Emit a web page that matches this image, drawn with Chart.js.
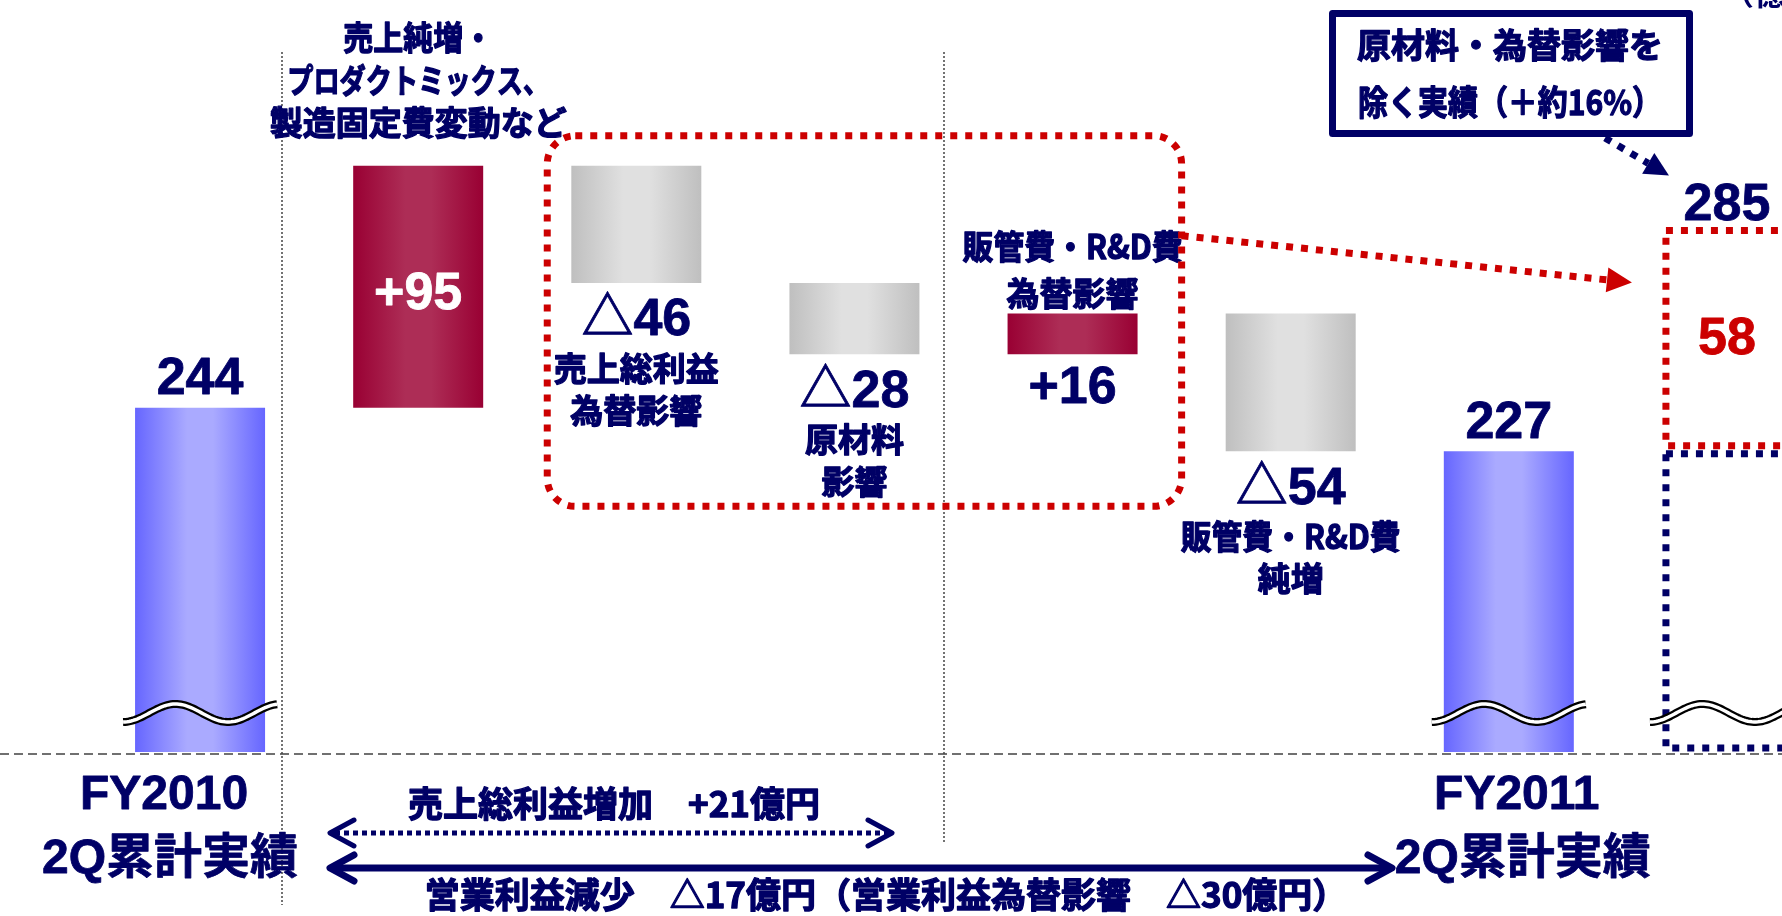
<!DOCTYPE html>
<html lang="ja">
<head>
<meta charset="utf-8">
<script src="https://cdn.jsdelivr.net/npm/chart.js@4.4.1/dist/chart.umd.min.js"></script>
<style>
html, body { margin: 0; padding: 0; background: #fff; overflow: hidden; }
#wrap { width: 1840px; height: 916px; }
</style>
</head>
<body>
<div id="wrap"><canvas id="BridgeChart"></canvas></div>
<script>
// 営業利益増減 (億円) FY2010 2Q -> FY2011 2Q
const categories = ['FY2010 2Q累計実績', '売上純増など', '売上総利益為替影響', '原材料影響',
    '販管費・R&D費為替影響', '販管費・R&D費純増', 'FY2011 2Q累計実績', '原材料・為替影響を除く実績'];
const totals = [244, 227];              // FY2010, FY2011
const deltas = [95, -46, -28, 16, -54]; // 増減要因
const exclImpact = 58;                  // 原材料・為替影響分 (285 = 227 + 58)

const axisLabels = [['FY2010', '2Q累計実績'], null, null, null, null, null, ['FY2011', '2Q累計実績'], null];
const subLabels = [
    null,
    ['売上純増・', 'プロダクトミックス、', '製造固定費変動など'],
    ['売上総利益', '為替影響'],
    ['原材料', '影響'],
    ['販管費・R&D費', '為替影響'],
    ['販管費・R&D費', '純増'],
    null,
    null
];
const noteLines = ['原材料・為替影響を', '除く実績（＋約16%）'];
const unitText = '（億円）';

const NAVY = '#000066';
const RED = '#cc0000';
const JP = '"Noto Sans CJK JP", sans-serif';
const NUM = '"Liberation Sans", "Noto Sans CJK JP", sans-serif';
const BAR_PCT = 0.596;

// floating bars for the waterfall
const n = categories.length;
const totalData = Array(n).fill(null);
const upData = Array(n).fill(null);
const downData = Array(n).fill(null);
totalData[0] = totals[0];
totalData[6] = totals[1];
let level = totals[0];
deltas.forEach(function (d, i) {
    let next = level + d;
    let pair = [Math.min(level, next), Math.max(level, next)];
    if (d > 0) upData[i + 1] = pair; else downData[i + 1] = pair;
    level = next;
});
const exBaseData = Array(n).fill(null);
const exTopData = Array(n).fill(null);
exBaseData[7] = totals[1];
exTopData[7] = [totals[1], totals[1] + exclImpact];

const grossChange = deltas[0] + deltas[1] + deltas[2];   // 売上総利益増加
const fxChange = deltas[1] + deltas[3];                  // 営業利益為替影響
const opChange = totals[1] - totals[0];                  // 営業利益減少

function fmt(v) { return v > 0 ? '+' + v : '△' + (-v); }

function barGradient(stops) {
    return function (c) {
        const chart = c.chart;
        if (!chart.chartArea) return stops[0];
        const xs = chart.scales.x;
        const cx = xs.getPixelForValue(c.dataIndex);
        const half = xs.width / n * BAR_PCT / 2;
        const g = chart.ctx.createLinearGradient(cx - half, 0, cx + half, 0);
        g.addColorStop(0, stops[0]);
        g.addColorStop(0.4, stops[1]);
        g.addColorStop(0.6, stops[1]);
        g.addColorStop(1, stops[0]);
        return g;
    };
}

function txt(ctx, s, x, y, size, color, fam, maxW) {
    ctx.font = 'bold ' + size + 'px ' + fam;
    ctx.fillStyle = color;
    ctx.strokeStyle = color;
    ctx.lineWidth = fam === JP ? 1.3 : 0.8;
    ctx.lineJoin = 'round';
    ctx.textAlign = 'center';
    ctx.textBaseline = 'middle';
    if (maxW) {
        ctx.fillText(s, x, y, maxW);
        ctx.strokeText(s, x, y, maxW);
    } else {
        ctx.fillText(s, x, y);
        ctx.strokeText(s, x, y);
    }
}

function dashRect(ctx, x, y, w, h, color) {
    ctx.save();
    ctx.strokeStyle = color;
    ctx.lineWidth = 7;
    ctx.setLineDash([7, 8]);
    ctx.strokeRect(x, y, w, h);
    ctx.restore();
}

function dashArrow(ctx, x1, y1, x2, y2, color, head) {
    const a = Math.atan2(y2 - y1, x2 - x1);
    const bx = x2 - head * Math.cos(a), by = y2 - head * Math.sin(a);
    const hw = head * 0.5;
    ctx.save();
    ctx.strokeStyle = color;
    ctx.lineWidth = 7;
    ctx.setLineDash([7, 8]);
    ctx.beginPath(); ctx.moveTo(x1, y1); ctx.lineTo(bx, by); ctx.stroke();
    ctx.setLineDash([]);
    ctx.fillStyle = color;
    ctx.beginPath();
    ctx.moveTo(x2, y2);
    ctx.lineTo(bx + hw * Math.sin(a), by - hw * Math.cos(a));
    ctx.lineTo(bx - hw * Math.sin(a), by + hw * Math.cos(a));
    ctx.closePath(); ctx.fill();
    ctx.restore();
}

function dblArrow(ctx, x1, x2, y, lw, dash) {
    ctx.save();
    ctx.strokeStyle = NAVY;
    ctx.lineWidth = lw;
    ctx.setLineDash(dash);
    ctx.beginPath(); ctx.moveTo(x1 + 5, y); ctx.lineTo(x2 - 5, y); ctx.stroke();
    ctx.setLineDash([]);
    ctx.lineCap = 'round';
    ctx.lineJoin = 'round';
    ctx.beginPath();
    ctx.moveTo(x1 + 24, y - 13); ctx.lineTo(x1, y); ctx.lineTo(x1 + 24, y + 13);
    ctx.moveTo(x2 - 24, y - 13); ctx.lineTo(x2, y); ctx.lineTo(x2 - 24, y + 13);
    ctx.stroke();
    ctx.restore();
}

function breakMark(ctx, x0, x1, yc) {
    ctx.save();
    ctx.beginPath();
    for (let x = x0; x <= x1; x += 2) {
        let y = yc + 9 * Math.cos(2 * Math.PI * (x - x0) / 105);
        if (x === x0) ctx.moveTo(x, y); else ctx.lineTo(x, y);
    }
    ctx.lineWidth = 8; ctx.strokeStyle = '#000'; ctx.stroke();
    ctx.lineWidth = 3.5; ctx.strokeStyle = '#fff'; ctx.stroke();
    ctx.restore();
}

const backPlugin = {
    id: 'back',
    beforeDatasetsDraw(chart) {
        const ctx = chart.ctx;
        const ca = chart.chartArea;
        ctx.save();
        // broken baseline
        ctx.strokeStyle = '#707070';
        ctx.lineWidth = 2;
        ctx.setLineDash([9, 5]);
        ctx.beginPath(); ctx.moveTo(0, ca.bottom + 2); ctx.lineTo(chart.width, ca.bottom + 2); ctx.stroke();
        // separators
        ctx.strokeStyle = '#444';
        ctx.lineWidth = 1.5;
        ctx.setLineDash([2, 2]);
        ctx.beginPath();
        ctx.moveTo(282, 52); ctx.lineTo(282, 905);
        ctx.moveTo(944, 52); ctx.lineTo(944, 843);
        ctx.stroke();
        ctx.restore();
    }
};

const notePlugin = {
    id: 'notes',
    afterDatasetsDraw(chart) {
        const ctx = chart.ctx;
        const ca = chart.chartArea;
        const xs = chart.scales.x;
        const ys = chart.scales.y;
        const catW = xs.width / n;

        function elOf(i) {
            for (let d = 0; d < 3; d++) {
                if (chart.data.datasets[d].data[i] != null) return chart.getDatasetMeta(d).data[i];
            }
            return null;
        }

        ctx.save();
        // wavy break marks on the full-height bars
        [0, 6].forEach(function (i) {
            const el = elOf(i);
            breakMark(ctx, el.x - el.width / 2 - 12, el.x + el.width / 2 + 12, ca.bottom - 39);
        });

        // 原材料・為替影響を除く column (dashed outlines)
        const eb = chart.getDatasetMeta(3).data[7];
        const et = chart.getDatasetMeta(4).data[7];
        const ebBase = Math.min(eb.base, ca.bottom);
        dashRect(ctx, eb.x - eb.width / 2 + 4, eb.y + 4, eb.width - 8, ebBase - eb.y - 8, NAVY);
        dashRect(ctx, et.x - et.width / 2 + 4, et.y, et.width - 8, et.base - et.y - 4, RED);
        breakMark(ctx, eb.x - eb.width / 2 - 12, eb.x + eb.width / 2 + 12, ca.bottom - 39);

        for (let i = 0; i < n; i++) {
            const el = elOf(i);
            if (!el) continue;
            const top = Math.min(el.y, el.base), bottom = Math.max(el.y, el.base);
            const lines = subLabels[i];
            if (i === 0 || i === 6) {
                const v = totalData[i];
                const lx = el.x + (i === 0 ? -30 : 14);
                txt(ctx, String(v), el.x, top - 28, 52, NAVY, NUM);
                txt(ctx, axisLabels[i][0], lx - 6, ca.bottom + 44, 48, NAVY, NUM);
                txt(ctx, axisLabels[i][1], lx, ca.bottom + 108, 48, NAVY, NUM);
            } else if (i === 1) {
                txt(ctx, fmt(deltas[0]), el.x, (top + bottom) / 2 + 8, 52, '#fff', NUM);
                txt(ctx, lines[0], el.x, top - 128, 33, NAVY, JP, 150);
                txt(ctx, lines[1], el.x, top - 85, 33, NAVY, JP, 262);
                txt(ctx, lines[2], el.x, top - 43, 33, NAVY, JP, 300);
            } else if (i === 4) {
                txt(ctx, lines[0], el.x, top - 67, 33, NAVY, JP, 220);
                txt(ctx, lines[1], el.x, top - 20, 33, NAVY, JP);
                txt(ctx, fmt(deltas[3]), el.x, bottom + 34, 52, NAVY, NUM);
            } else {
                txt(ctx, fmt(deltas[i - 1]), el.x, bottom + 38, 52, NAVY, NUM);
                txt(ctx, lines[0], el.x, bottom + 85, 33, NAVY, JP, 220);
                txt(ctx, lines[1], el.x, bottom + 127, 33, NAVY, JP);
            }
        }
        txt(ctx, String(totals[1] + exclImpact), et.x, et.y - 25, 52, NAVY, NUM);
        txt(ctx, String(exclImpact), et.x, (et.y + et.base) / 2, 52, RED, NUM);

        // red rounded box round the FX / raw material effects
        const bl = xs.getPixelForValue(2) - catW / 2 + 20;
        const br = xs.getPixelForValue(4) + catW / 2;
        const bt = ys.getPixelForValue(upData[1][1]) - 30;
        const bb = ys.getPixelForValue(upData[4][0]) + 152;
        ctx.save();
        ctx.strokeStyle = RED;
        ctx.lineWidth = 7;
        ctx.setLineDash([7, 8]);
        ctx.beginPath();
        ctx.roundRect(bl, bt, br - bl, bb - bt, 28);
        ctx.stroke();
        ctx.restore();
        dashArrow(ctx, br, bt + 100, et.x - et.width / 2 - 30, et.y + 52, RED, 25);

        // note box
        ctx.save();
        ctx.strokeStyle = NAVY;
        ctx.lineWidth = 7;
        ctx.strokeRect(1332.5, 13.5, 357, 120);
        ctx.restore();
        txt(ctx, noteLines[0], 1510, 45, 34, NAVY, JP, 306);
        txt(ctx, noteLines[1], 1510, 102, 34, NAVY, JP, 304);
        dashArrow(ctx, 1605, 138, et.x - 58, et.y - 55, NAVY, 24);

        // unit (cut at the top edge)
        ctx.font = 'bold 32px ' + JP;
        ctx.fillStyle = NAVY;
        ctx.textAlign = 'left';
        ctx.textBaseline = 'alphabetic';
        ctx.fillText(unitText, 1722, 5);

        // bottom summary arrows
        dblArrow(ctx, 330, 892, 833, 5, [5, 4]);
        txt(ctx, '売上総利益増加　' + fmt(grossChange) + '億円', 614, 804, 35, NAVY, JP, 425);
        dblArrow(ctx, 330, 1392, 868, 7, []);
        txt(ctx, '営業利益減少　' + fmt(opChange) + '億円（営業利益為替影響　' + fmt(fxChange) + '億円）',
            886, 895, 35, NAVY, JP, 955);
        ctx.restore();
    }
};

const ctx = document.getElementById('BridgeChart');
const BridgeChart = new Chart(ctx, {
    type: 'bar',
    data: {
        labels: categories,
        datasets: [
            { label: '実績', data: totalData, backgroundColor: barGradient(['#6666ff', '#aaaaff']) },
            { label: '増加', data: upData, backgroundColor: barGradient(['#990033', '#ad2d56']) },
            { label: '減少', data: downData, backgroundColor: barGradient(['#bfbfbf', '#e0e0e0']) },
            { label: '除く実績', data: exBaseData, yAxisID: 'yBreak', backgroundColor: 'rgba(0,0,0,0)' },
            { label: '影響', data: exTopData, yAxisID: 'yBreak', backgroundColor: 'rgba(0,0,0,0)' }
        ]
    },
    options: {
        responsive: true,
        maintainAspectRatio: false,
        animation: false,
        layout: { padding: { left: 91, right: 4, top: 0, bottom: 164 } },
        datasets: {
            bar: { grouped: false, categoryPercentage: 1, barPercentage: BAR_PCT, borderWidth: 0 }
        },
        plugins: {
            legend: { display: false },
            tooltip: { enabled: false }
        },
        scales: {
            x: { display: false },
            y: { display: false, min: 109, max: 404 },
            // the last column is drawn out of proportion, as on the original slide
            yBreak: { display: false, position: 'right', min: 147, max: 346 }
        }
    },
    plugins: [backPlugin, notePlugin]
});
</script>
</body>
</html>
